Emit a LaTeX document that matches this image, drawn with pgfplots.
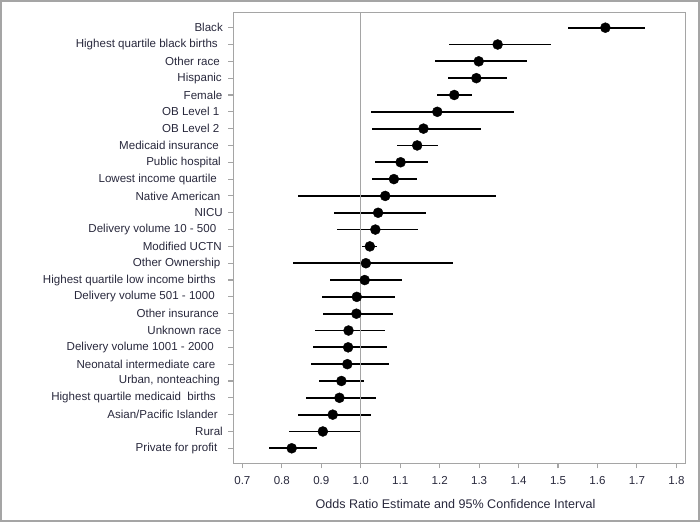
\documentclass[border=0pt]{standalone}
\usepackage{fontspec}
\setmainfont{Liberation Sans}
\usepackage{pgfplots}
\usepackage{pgfplotstable}
\pgfplotsset{compat=1.18}
\definecolor{framegray}{RGB}{165,165,165}
\definecolor{txt}{RGB}{40,40,60}
\newcommand\tr[1]{\hspace*{#1bp}}

% Odds ratio estimates with 95% confidence limits (row 25 = top)
\pgfplotstableread{
row est   lo    hi
25  1.620 1.525 1.720
24  1.347 1.223 1.483
23  1.299 1.189 1.422
22  1.293 1.221 1.370
21  1.237 1.192 1.281
20  1.194 1.026 1.388
19  1.159 1.029 1.305
18  1.143 1.093 1.196
17  1.101 1.035 1.171
16  1.084 1.029 1.142
15  1.062 0.842 1.342
14  1.044 0.933 1.166
13  1.037 0.939 1.144
12  1.023 1.004 1.042
11  1.013 0.829 1.234
10  1.010 0.922 1.105
9   0.990 0.901 1.088
8   0.989 0.904 1.082
7   0.969 0.885 1.062
6   0.968 0.879 1.066
5   0.966 0.874 1.072
4   0.951 0.895 1.009
3   0.946 0.860 1.039
2   0.929 0.842 1.025
1   0.904 0.819 0.998
0   0.825 0.767 0.888
}\ordata

\begin{document}
\begin{tikzpicture}[x=1bp,y=1bp]
\useasboundingbox (0,0) rectangle (700,524);
\draw[framegray, line width=2.2bp] (1.1,2.8) rectangle (698.6,522.9);
\begin{axis}[
  at={(233.3bp,60.7bp)}, anchor=south west,
  scale only axis, width=452.4bp, height=450.6bp,
  xmin=0.677, xmax=1.8236,
  ymin=-0.892, ymax=25.892,
  xtick={0.7,0.8,...,1.8},
  ytick={0,...,25},
  xtick pos=bottom, ytick pos=left,
  yticklabels={
    Private for profit\tr{5.5},
    Rural,
    Asian/Pacific Islander\tr{5},
    Highest quartile medicaid~ births\tr{7},
    {Urban, nonteaching\tr{3}},
    Neonatal intermediate care\tr{7.5},
    Delivery volume 1001 - 2000\tr{9},
    Unknown race\tr{1.5},
    Other insurance\tr{4},
    Delivery volume 501 - 1000\tr{8},
    Highest quartile low income births\tr{7},
    Other Ownership\tr{2.5},
    Modified UCTN\tr{1},
    Delivery volume 10 - 500\tr{6.5},
    NICU,
    Native American\tr{2.5},
    Lowest income quartile\tr{6},
    Public hospital\tr{2},
    Medicaid insurance\tr{4},
    OB Level 2\tr{3.5},
    OB Level 1\tr{3.5},
    Female\tr{0.5},
    Hispanic\tr{1},
    Other race\tr{3},
    Highest quartile black births\tr{5},
    Black},
  tick align=outside,
  major tick length=5bp,
  tick style={framegray, line width=1.1bp},
  axis line style={framegray, line width=1.4bp},
  /pgf/number format/assume math mode=true,
  /pgf/number format/fixed,
  /pgf/number format/fixed zerofill,
  /pgf/number format/precision=1,
  xticklabel style={yshift=-5bp},
  yticklabel style={xshift=-2bp},
  ticklabel style={font=\fontsize{11.6}{13}\selectfont, text=txt},
  xlabel={Odds Ratio Estimate and 95\% Confidence Interval},
  xlabel style={font=\fontsize{12.6}{14}\selectfont, text=txt, yshift=-8bp, xshift=-4bp},
  clip=false,
]
% confidence intervals
\addplot[only marks, mark=none, black,
  error bars/.cd, x dir=both, x explicit, error mark=none,
  error bar style={line width=1.8bp, black}]
  table[x=est, y=row,
        x error plus expr=\thisrow{hi}-\thisrow{est},
        x error minus expr=\thisrow{est}-\thisrow{lo}] {\ordata};
% point estimates
\addplot[only marks, mark=*, mark size=5bp, black] table[x=est, y=row] {\ordata};
% reference line at an odds ratio of 1
\addplot[framegray, line width=1.4bp] coordinates {(1,-0.892) (1,25.892)};
\end{axis}
\end{tikzpicture}
\end{document}
